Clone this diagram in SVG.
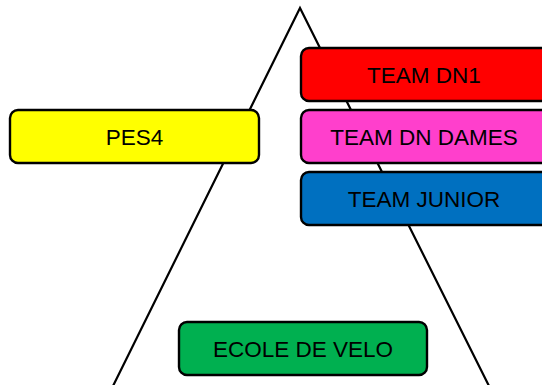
<svg xmlns="http://www.w3.org/2000/svg" width="542" height="385" viewBox="0 0 542 385">
<style>
.box{stroke:#000;stroke-width:2.4}
.lbl{font-family:"Liberation Sans",Arial,sans-serif;font-size:22.5px;fill:#000;text-anchor:middle}
.tri{fill:none;stroke:#000;stroke-width:2.2}
</style>
<rect width="542" height="385" fill="#fff"/>
<g id="connectors">
<polyline class="tri" points="113,386 300,8 489,386"/>
</g>
<g id="dn1">
<rect class="box" x="301" y="48" width="248" height="53" rx="8" fill="#FF0000"/>
<text class="lbl" x="424" y="82.5">TEAM DN1</text>
</g>
<g id="pes4">
<rect class="box" x="10" y="110" width="249" height="53" rx="8" fill="#FFFF00"/>
<text class="lbl" x="134.5" y="144.5">PES4</text>
</g>
<g id="dndames">
<rect class="box" x="301" y="110" width="248" height="53" rx="8" fill="#FF3FCC"/>
<text class="lbl" x="424" y="144.5">TEAM DN DAMES</text>
</g>
<g id="junior">
<rect class="box" x="301" y="172" width="248" height="53" rx="8" fill="#0070C0"/>
<text class="lbl" x="424" y="206.5">TEAM JUNIOR</text>
</g>
<g id="ecole">
<rect class="box" x="179" y="322" width="248" height="53" rx="8" fill="#00B050"/>
<text class="lbl" x="303" y="356.5">ECOLE DE VELO</text>
</g>
</svg>
